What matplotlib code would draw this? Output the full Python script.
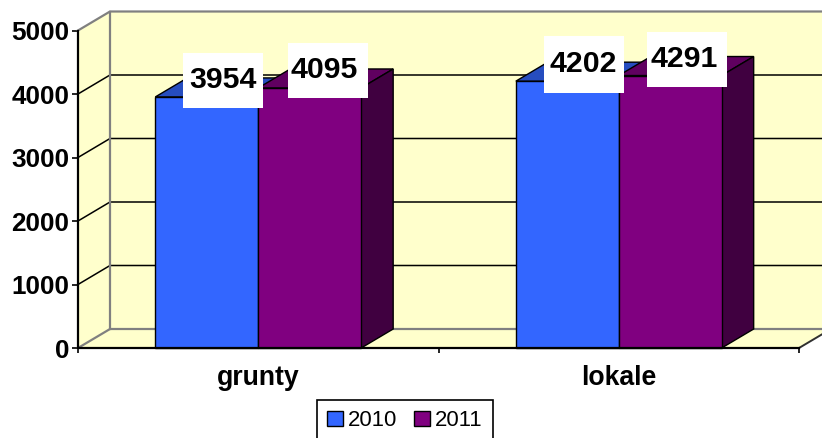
import matplotlib
matplotlib.use("Agg")
import matplotlib.pyplot as plt
from matplotlib.patches import Polygon, Rectangle

categories = ["grunty", "lokale"]
years = ["2010", "2011"]
values_2010 = [3954, 4202]
values_2011 = [4095, 4291]
yticks = [0, 1000, 2000, 3000, 4000, 5000]

W, H = 822, 438
plt.rcParams["font.family"] = ["Liberation Sans", "DejaVu Sans"]

# colours
WALL = "#FFFFCC"
GREY = "#808080"
FRONT = ["#3366FF", "#800080"]
TOP = ["#264DBF", "#600060"]
SIDE = ["#1A3380", "#400040"]

fig = plt.figure(figsize=(W / 100, H / 100), dpi=100, facecolor="white")
ax = fig.add_axes([78 / W, (H - 348) / H, 721 / W, 317.5 / H])
ax.set_xlim(0, 2)
ax.set_ylim(0, 5000)
ax.patch.set_visible(False)

# depth of the fake 3d box, in data units (32 px right, 19 px up)
DX = 32 / 360.5
DY = 19 / 63.5 * 1000
BAR_W = 0.2855
RIGHT = 2.2  # back wall runs off the figure edge


def poly(pts, fc, ec="none", lw=0, z=1):
    ax.add_patch(Polygon(pts, closed=True, fc=fc, ec=ec, lw=lw, zorder=z,
                         clip_on=False, joinstyle="miter"))


# walls and floor
poly([(0, 0), (DX, DY), (DX, 5000 + DY), (0, 5000)], WALL)
poly([(DX, DY), (RIGHT, DY), (RIGHT, 5000 + DY), (DX, 5000 + DY)], WALL)
poly([(0, 0), (2, 0), (2 + DX, DY), (RIGHT, DY), (RIGHT, 0)], "white")
poly([(0, 0), (2, 0), (2 + DX, DY), (DX, DY)], WALL)
poly([(2, 0), (RIGHT, 0), (RIGHT, -DY), (2, -DY)], "white")

# grid on the walls
for t in yticks:
    col = GREY if t in (0, 5000) else "black"
    lw = 1.6 if t in (0, 5000) else 1.1
    ax.plot([0, DX, RIGHT], [t, t + DY, t + DY], color=col, lw=lw, zorder=2,
            clip_on=False, solid_joinstyle="miter")
ax.plot([DX, DX], [DY, 5000 + DY], color=GREY, lw=1.6, zorder=2, clip_on=False)
ax.plot([2, 2 + DX], [0, DY], color="#303030", lw=1.4, zorder=2, clip_on=False)

# bars
centres = [0.5, 1.5]
for j, vals in enumerate([values_2010, values_2011]):
    xs = [c + (j - 0.5) * BAR_W for c in centres]
    z = 3 + j
    ax.bar(xs, vals, width=BAR_W, color=FRONT[j], edgecolor="black", linewidth=1.0,
           zorder=z + 0.5, label=years[j], clip_on=False)
    for x, v in zip(xs, vals):
        l, r = x - BAR_W / 2, x + BAR_W / 2
        poly([(l, v), (r, v), (r + DX, v + DY), (l + DX, v + DY)], TOP[j], "black", 1.0, z)
        poly([(r, 0), (r + DX, DY), (r + DX, v + DY), (r, v)], SIDE[j], "black", 1.0, z)

# white value boxes and text centres, pixel positions measured from the top left
boxes = [(183, 53, 80, 55), (288, 43, 80, 55), (544, 36, 80, 57), (647, 32, 80, 55)]
text_xy = [(222.5, 80), (324.5, 70.5), (583.5, 64.5), (684, 59)]
labels = [values_2010[0], values_2011[0], values_2010[1], values_2011[1]]
for (bx, by, bw, bh), (tx, ty), val in zip(boxes, text_xy, labels):
    fig.add_artist(Rectangle((bx / W, 1 - (by + bh) / H), bw / W, bh / H,
                             transform=fig.transFigure, fc="white", ec="none", zorder=10))
    fig.text(tx / W, 1 - ty / H, str(val), ha="center", va="center", fontsize=21.8,
             fontweight="bold", color="black", zorder=11)

# axes
for s in ("top", "right"):
    ax.spines[s].set_visible(False)
for s in ("left", "bottom"):
    ax.spines[s].set_linewidth(1.6)
    ax.spines[s].set_zorder(8)
ax.set_yticks(yticks)
ax.set_yticklabels([str(t) for t in yticks], fontsize=18.8, fontweight="bold")
ax.set_xticks([0, 1, 2])
ax.set_xticklabels([])
ax.set_xticks([0.5, 1.5], minor=True)
ax.set_xticklabels(categories, minor=True, fontsize=19.2, fontweight="bold")
ax.tick_params(axis="y", length=4.3, width=1.2, pad=2)
ax.tick_params(axis="x", which="major", length=3.6, width=1.2)
ax.tick_params(axis="x", which="minor", length=0, pad=12)

# legend
handles = ax.containers
leg = fig.legend(handles, years, ncol=2, loc="center",
                 bbox_to_anchor=(405 / W, 1 - 420.5 / H), fontsize=15.9,
                 fancybox=False, framealpha=1, edgecolor="black",
                 handlelength=0.7, handleheight=0.7, handletextpad=0.25,
                 columnspacing=0.75, borderpad=0.45, borderaxespad=0)
leg.get_frame().set_linewidth(1.2)

fig.savefig("out.png", dpi=100)
